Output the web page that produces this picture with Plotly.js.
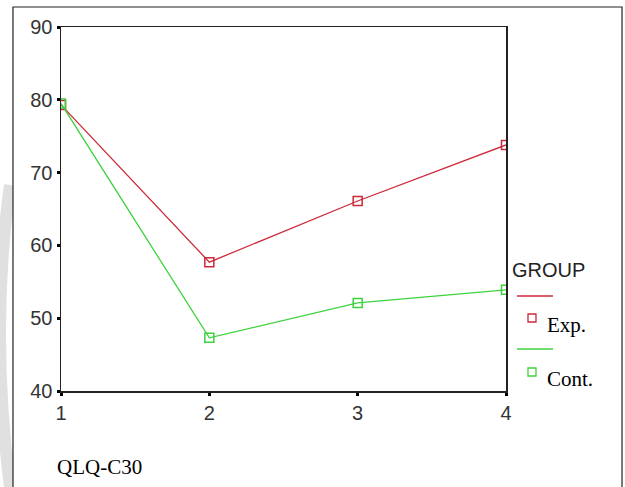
<!DOCTYPE html>
<html><head><meta charset="utf-8">
<script src="https://cdn.plot.ly/plotly-3.0.1.min.js"></script>
<style>html,body{margin:0;padding:0;background:#fff}#chart{width:625px;height:487px}</style>
</head><body><div id="chart"></div>
<script>
const timepoints = [1, 2, 3, 4];
const expValues = [79.3, 57.7, 66.1, 73.8];
const contValues = [79.5, 47.3, 52.1, 53.9];
const groupNames = ['Exp.', 'Cont.'];
const legendTitle = 'GROUP';
const xTickLabels = ['1', '2', '3', '4'];
const yTicks = [40, 50, 60, 70, 80, 90];
const footLabel = 'QLQ-C30';

const red = '#cc2a3a';
const green = '#3ed23e';

const traces = [
  {x: timepoints, y: expValues, name: groupNames[0], type: 'scatter', mode: 'lines+markers',
   line: {color: red, width: 1.3}, marker: {symbol: 'square-open', size: 9, color: red, line: {width: 1.5}},
   cliponaxis: true, showlegend: false},
  {x: timepoints, y: contValues, name: groupNames[1], type: 'scatter', mode: 'lines+markers',
   line: {color: green, width: 1.3}, marker: {symbol: 'square-open', size: 9, color: green, line: {width: 1.5}},
   cliponaxis: true, showlegend: false}
];

const sq = (cx, cy, col) => ({type: 'rect', xref: 'paper', yref: 'paper', xsizemode: 'pixel', ysizemode: 'pixel',
  xanchor: cx, yanchor: cy, x0: -4, x1: 4, y0: -4, y1: 4, line: {color: col, width: 1.3}});

const layout = {
  width: 625, height: 487,
  margin: {l: 61, r: 119, t: 27, b: 96},
  paper_bgcolor: '#fff', plot_bgcolor: '#fff',
  showlegend: false,
  xaxis: {range: [1, 4], tickvals: timepoints, ticktext: xTickLabels, showgrid: false, zeroline: false,
    showline: true, linecolor: '#222', linewidth: 1.5, mirror: true,
    ticks: 'outside', ticklen: 3, tickwidth: 3, tickcolor: '#000',
    tickfont: {family: 'Liberation Sans, Arial', size: 20, color: '#333'}},
  yaxis: {range: [40, 90], tickvals: yTicks, showgrid: false, zeroline: false,
    showline: true, linecolor: '#222', linewidth: 1.5, mirror: true,
    ticks: 'outside', ticklen: 3, tickwidth: 3, tickcolor: '#000',
    tickfont: {family: 'Liberation Sans, Arial', size: 20, color: '#333'}},
  shapes: [
    {type: 'path', xref: 'paper', yref: 'paper', layer: 'below',
     path: 'M -0.1146 0.566 Q -0.1596 0.1676 -0.1146 -0.2637',
     line: {color: '#e0e0e0', width: 12}},
    {type: 'rect', xref: 'paper', yref: 'paper', x0: -0.1079, x1: 1.2607, y0: -0.30, y1: 1.0549,
     line: {color: '#222', width: 1.2}, fillcolor: '#fff', layer: 'below'},
    {type: 'line', xref: 'paper', yref: 'paper', x0: 1.0247, x1: 1.1056, y0: 0.261, y1: 0.261, line: {color: red, width: 1.3}},
    {type: 'line', xref: 'paper', yref: 'paper', x0: 1.0247, x1: 1.1056, y0: 0.1154, y1: 0.1154, line: {color: green, width: 1.3}},
    sq(1.0584, 0.2006, red),
    sq(1.0584, 0.0522, green)
  ],
  annotations: [
    {text: legendTitle, xref: 'paper', yref: 'paper', x: 1.009, y: 0.3324, xanchor: 'left', yanchor: 'middle',
     showarrow: false, font: {family: 'Liberation Sans, Arial', size: 20, color: '#222'}},
    {text: groupNames[0], xref: 'paper', yref: 'paper', x: 1.087, y: 0.18, xanchor: 'left', yanchor: 'middle',
     showarrow: false, font: {family: 'Liberation Serif, Times New Roman', size: 21, color: '#000'}},
    {text: groupNames[1], xref: 'paper', yref: 'paper', x: 1.087, y: 0.033, xanchor: 'left', yanchor: 'middle',
     showarrow: false, font: {family: 'Liberation Serif, Times New Roman', size: 21, color: '#000'}},
    {text: footLabel, xref: 'paper', yref: 'paper', x: -0.014, y: -0.21, xanchor: 'left', yanchor: 'middle',
     showarrow: false, font: {family: 'Liberation Serif, Times New Roman', size: 21, color: '#000'}}
  ]
};
Plotly.newPlot('chart', traces, layout, {displayModeBar: false, staticPlot: true});
</script></body></html>
